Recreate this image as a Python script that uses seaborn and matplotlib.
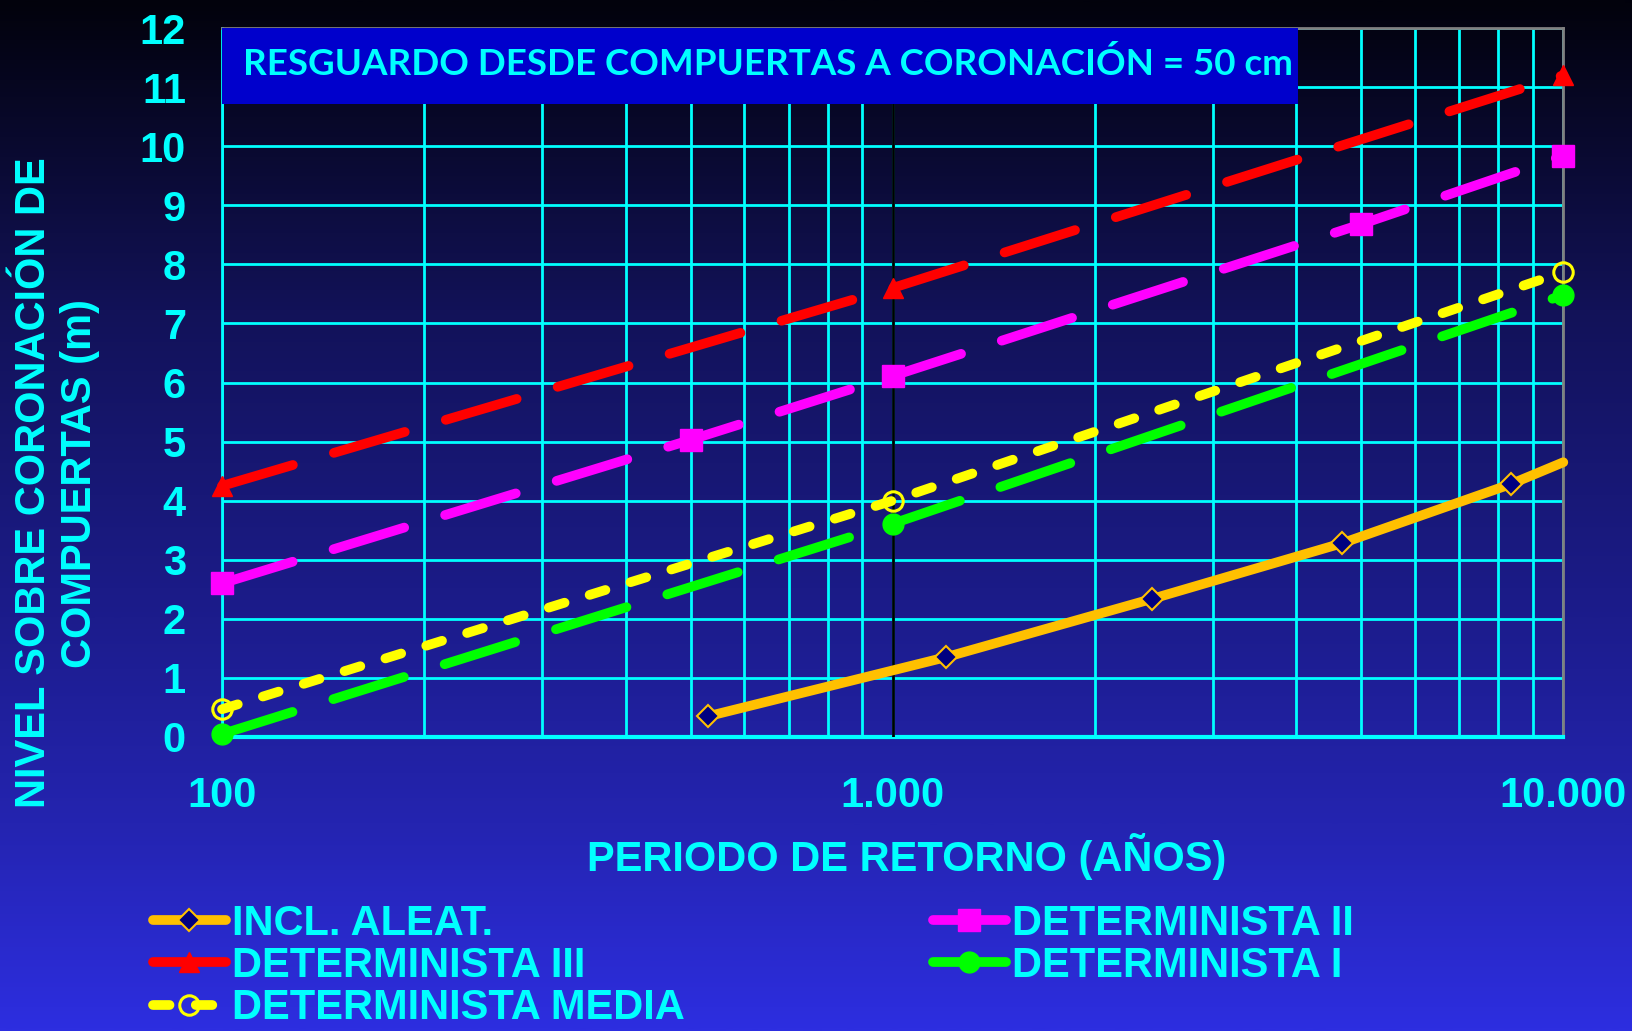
import matplotlib
matplotlib.use("Agg")
import matplotlib.pyplot as plt
import numpy as np
import pandas as pd
import seaborn as sns
from matplotlib.colors import LinearSegmentedColormap
from matplotlib.patches import Rectangle
from matplotlib.ticker import FixedLocator, FixedFormatter, NullFormatter

# Return period (years) and level over gate crest (m) for each scenario
periodo_incl = [530, 1200, 2440, 4680, 8350, 10000]
nivel_incl = [0.35, 1.35, 2.34, 3.28, 4.28, 4.65]
periodo_det3 = [100, 1000, 10000]
nivel_det3 = [4.25, 7.60, 11.20]
periodo_det2 = [100, 500, 1000, 5000, 10000]
nivel_det2 = [2.60, 5.03, 6.11, 8.68, 9.84]
periodo_det1 = [100, 1000, 10000]
nivel_det1 = [0.05, 3.61, 7.48]
periodo_media = [100, 1000, 10000]
nivel_media = [0.47, 4.00, 7.87]

ticks_x = [100, 1000, 10000]
etiquetas_x = ["100", "1.000", "10.000"]
ticks_y = list(range(0, 13))

titulo_caja = "RESGUARDO DESDE COMPUERTAS A CORONACIÓN = 50 cm"
etiqueta_x = "PERIODO DE RETORNO (AÑOS)"
etiqueta_y = "NIVEL SOBRE CORONACIÓN DE\nCOMPUERTAS (m)"
nombres = ["INCL. ALEAT.", "DETERMINISTA III", "DETERMINISTA MEDIA",
           "DETERMINISTA II", "DETERMINISTA I"]

CYAN = "#00FFFF"
W, H = 1632, 1031

sns.set_style("white")
plt.rcParams["font.family"] = ["Liberation Sans", "DejaVu Sans"]
plt.rcParams["font.weight"] = "bold"

fig = plt.figure(figsize=(W / 100, H / 100), dpi=100)

# vertical background gradient, dark navy to bright blue
bg = fig.add_axes([0, 0, 1, 1], zorder=-10)
fondo = LinearSegmentedColormap.from_list(
    "fondo", [(0.0, "#02020c"), (0.3, "#121258"), (0.6, "#1c1c8c"),
              (0.8, "#2424b0"), (1.0, "#2d2ee0")])
bg.imshow(np.linspace(0, 1, 512).reshape(-1, 1), aspect="auto", cmap=fondo)
bg.set_axis_off()

x0, x1, y_top, y_bot = 222, 1563.3, 28, 737
ax = fig.add_axes([x0 / W, 1 - y_bot / H, (x1 - x0) / W, (y_bot - y_top) / H])
ax.set_facecolor("none")
ax.set_xscale("log")
ax.set_xlim(100, 10000)
ax.set_ylim(0, 12)

LW = 7


def serie(x, y, color, marker, ms, dash, mfc=None, mec=None, mew=1.0, markevery=None):
    sns.lineplot(x=x, y=y, ax=ax, color=color, lw=LW, marker=marker, markersize=ms,
                 markerfacecolor=mfc if mfc is not None else color,
                 markeredgecolor=mec if mec is not None else color,
                 markeredgewidth=mew, zorder=4, legend=False)
    line = ax.lines[-1]
    line.set_dash_capstyle("round")
    line.set_solid_capstyle("round")
    line.set_clip_on(False)
    if dash is not None:
        line.set_linestyle((0, dash))
    if markevery is not None:
        line.set_markevery(markevery)
    return line


h_incl = serie(periodo_incl, nivel_incl, "#FFC000", "D", 11, None,
               mfc="#000080", mec="#FFC000", mew=1.5, markevery=[0, 1, 2, 3, 4])
h_det3 = serie(periodo_det3, nivel_det3, "#FF0000", "^", 15, (7.6, 4.4))
h_det2 = serie(periodo_det2, nivel_det2, "#FF00FF", "s", 16, (7.6, 4.4))
h_det1 = serie(periodo_det1, nivel_det1, "#00FF00", "o", 15, (7.6, 4.4))
h_media = serie(periodo_media, nivel_media, "#FFFF00", "o", 14, (1.7, 2.7),
                mfc="none", mec="#FFFF00", mew=2.2)

# reference line at T = 1000 years
ax.axvline(1000, color="black", lw=2, zorder=3)

# grid and ticks
ax.xaxis.set_major_locator(FixedLocator(ticks_x))
ax.xaxis.set_major_formatter(FixedFormatter(etiquetas_x))
menores = [m * d for d in (100, 1000) for m in range(2, 10)]
ax.xaxis.set_minor_locator(FixedLocator(menores))
ax.xaxis.set_minor_formatter(NullFormatter())
ax.set_yticks(ticks_y)
ax.set_axisbelow(True)
ax.grid(which="both", axis="x", color=CYAN, lw=2)
ax.grid(which="major", axis="y", color=CYAN, lw=2)
ax.tick_params(axis="both", which="major", direction="out", length=6, width=2,
               color=CYAN, labelcolor=CYAN, labelsize=30)
ax.tick_params(axis="x", which="major", pad=22)
ax.tick_params(axis="y", which="major", pad=20)
ax.tick_params(axis="x", which="minor", length=0)
for lab in ax.get_xticklabels() + ax.get_yticklabels():
    lab.set_fontweight("bold")

ax.spines["left"].set_color(CYAN)
ax.spines["left"].set_linewidth(2)
ax.spines["bottom"].set_color(CYAN)
ax.spines["bottom"].set_linewidth(3)
for s in ("top", "right"):
    ax.spines[s].set_color("#808080")
    ax.spines[s].set_linewidth(2)

# header box
caja_y = (y_bot - 104) / (y_bot - y_top)
ax.add_patch(Rectangle((0, caja_y), 0.802, 1 - caja_y, transform=ax.transAxes,
                       facecolor="#0000CC", edgecolor="none", zorder=5, clip_on=False))
titulo = ax.text(0.407, (y_bot - 64) / (y_bot - y_top), titulo_caja, transform=ax.transAxes,
                 ha="center", va="center", color=CYAN, fontsize=30,
                 family=["Lato", "DejaVu Sans"], fontweight="bold", zorder=6)

# axis labels
ax.set_xlabel(etiqueta_x, fontsize=30, color=CYAN, fontweight="bold")
ax.xaxis.label.set_va("center")
ax.xaxis.set_label_coords((907 - x0) / (x1 - x0), -(857 - y_bot) / (y_bot - y_top))
fig.text(57 / W, 1 - 483 / H, etiqueta_y, rotation=90, ha="center", va="center",
         multialignment="center", fontsize=30, color=CYAN, fontweight="bold",
         linespacing=1.2)

# legend below the chart
leg = ax.legend(handles=[h_incl, h_det3, h_media, h_det2, h_det1], labels=nombres,
                ncol=2, loc="upper left", bbox_to_anchor=(153 / W, 1 - 904 / H),
                bbox_transform=fig.transFigure, frameon=False,
                prop={"size": 30, "weight": "bold"}, handlelength=1.75,
                handletextpad=0.15, columnspacing=5.95, labelspacing=0.05,
                borderpad=0, borderaxespad=0)
for t in leg.get_texts():
    t.set_color(CYAN)

fig.canvas.draw()
ancho = titulo.get_window_extent().width
titulo.set_fontsize(30 * 1051 / ancho)

fig.savefig("out.png", dpi=100)
